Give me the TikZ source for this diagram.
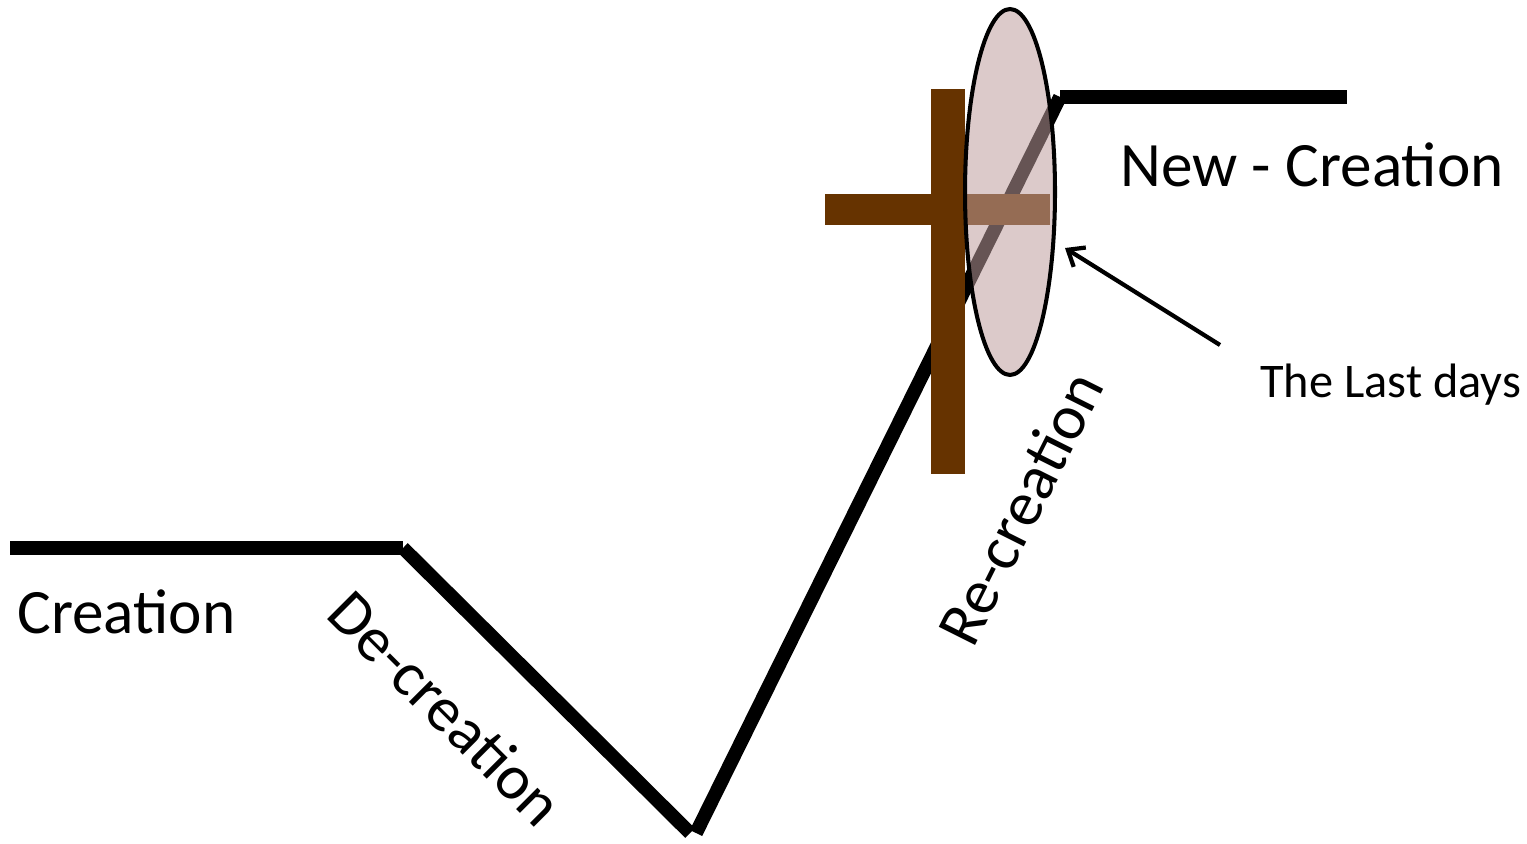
\documentclass[tikz,border=0pt]{standalone}
\usepackage{fontspec}
\setmainfont{Carlito}
\usepackage{xcolor}
\usepackage{tikz}
\usetikzlibrary{arrows.meta, shapes.geometric}
\definecolor{madera}{RGB}{102,51,0}
\definecolor{rosado}{RGB}{190,157,157}

\begin{document}
\begin{tikzpicture}[
        x=0.02cm, y=-0.02cm,
        stage/.style={line width=7.8pt, black},
        label/.style={font=\fontsize{36}{40}\selectfont, inner sep=0pt},
        small/.style={font=\fontsize{27.5}{32}\selectfont, inner sep=0pt},
        woodbar/.style={fill=madera, draw=none},
        lastdays/.style={ellipse, draw=black, line width=2.3pt, fill=rosado, fill opacity=0.54, draw opacity=1, minimum width=1.8cm, minimum height=7.32cm, inner sep=0pt},
        pointer/.style={-{Straight Barb[length=8pt, width=13pt]}, line width=2.4pt}
    ]
        \useasboundingbox (0,0) rectangle (1527,844);

        % the path of creation
        \coordinate (c1) at (10,548);
        \coordinate (c2) at (403,548);
        \coordinate (c3) at (690,833);
        \coordinate (c4) at (696,833);
        \coordinate (c5) at (1060,97);
        \coordinate (c6) at (1347,97);

        \draw[stage] (c1) -- (c2);
        \draw[stage] (c2) -- (c3);
        \draw[stage] (c4) -- (c5);
        \draw[stage] (c5) -- (c6);

        % cross
        \fill[woodbar] (931,89) rectangle (965,474);
        \fill[woodbar] (825,194) rectangle (1050,225);

        \node[lastdays] (last) at (1010,192) {};

        \node[label, anchor=base west] (crea) at (17,633) {Creation};
        \node[label, rotate=-45] (decrea) at (446,708) {De-creation};
        \node[label, rotate=63.4] (recrea) at (1020,508) {Re-creation};
        \node[label, anchor=base west] (newcrea) at (1120,187) {New - Creation};
        \node[small, anchor=base west] (days) at (1260,397) {The Last days};

        \coordinate (tail) at (1220,345);
        \coordinate (tip) at (1065,248);
        \draw[pointer] (tail) -- (tip);
    \end{tikzpicture}
\end{document}
